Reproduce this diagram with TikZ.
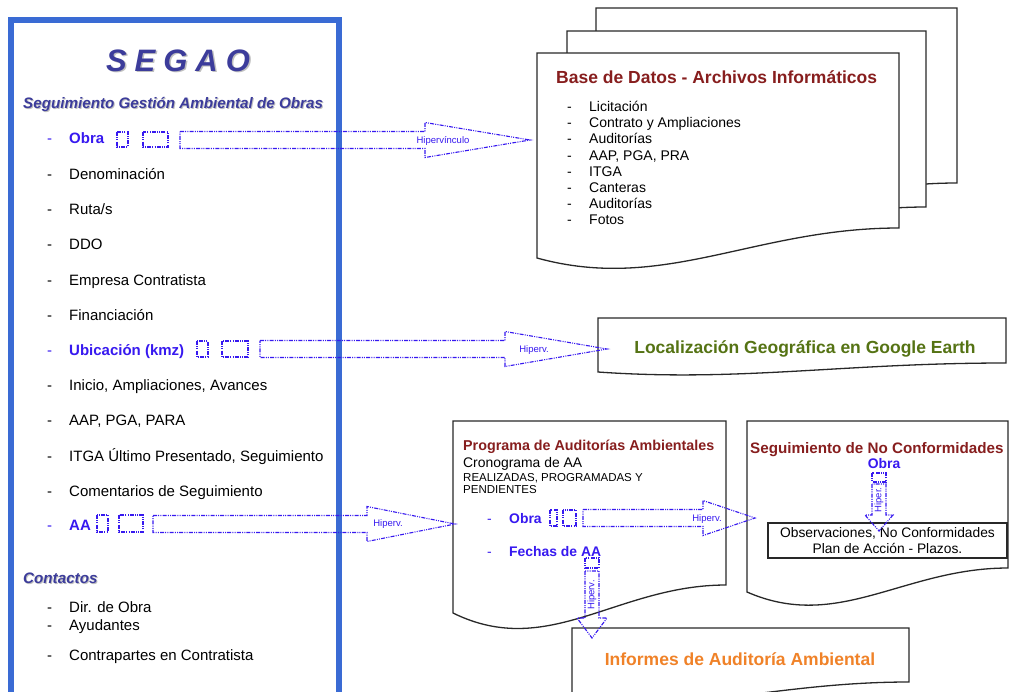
\documentclass[tikz,border=0pt]{standalone}
\usepackage{fontspec}
\setmainfont{Liberation Sans}
\definecolor{panelblue}{RGB}{58,107,212}
\definecolor{hyblue}{RGB}{55,25,240}
\definecolor{titlenavy}{RGB}{60,60,155}
\definecolor{darkred}{RGB}{135,30,30}
\definecolor{olivegreen}{RGB}{85,115,20}
\definecolor{orangeT}{RGB}{240,130,40}
\definecolor{outline}{RGB}{40,40,40}
\tikzset{
 lst/.style={anchor=base west, inner sep=0pt, font=\fontsize{15}{18}\selectfont},
 lstb/.style={anchor=base west, inner sep=0pt, font=\fontsize{15}{18}\selectfont\bfseries, text=hyblue},
 dbl/.style={anchor=base west, inner sep=0pt, font=\fontsize{14}{16}\selectfont},
 hyline/.style={draw=hyblue, line width=1.1pt, dash pattern=on 4pt off 1.2pt on 1pt off 1.2pt on 1pt off 1.2pt},
 hylabel/.style={inner sep=0pt, text=hyblue, font=\fontsize{9.5}{11}\selectfont},
 doc/.style={draw=outline, line width=1.3pt, fill=white, line join=miter},
 navytxt/.style={inner sep=0pt, text=titlenavy, font=\fontsize{15.2}{18}\selectfont\bfseries\itshape},
 shadowtxt/.style={inner sep=0pt, text=black!25, font=\fontsize{15.2}{18}\selectfont\bfseries\itshape},
}
% xL yT xR yLB yRB c1y
\newcommand{\docshape}[6]{\draw[doc] (#1,#2) -- (#3,#2) -- (#3,#5) .. controls ({#1+0.6*(#3-#1)},#5) and ({#1+0.35*(#3-#1)},#6) .. (#1,#4) -- cycle;}
% x1 x2 x3 y
\newcommand{\hyarrowR}[4]{\draw[hyline] (#1,#4-8.5) -- (#2,#4-8.5) -- (#2,#4-17.5) -- (#3,#4) -- (#2,#4+17.5) -- (#2,#4+8.5) -- (#1,#4+8.5) -- cycle;}
% xc y1 y2 y3 hs hh
\newcommand{\hyarrowD}[6]{\draw[hyline] (#1-#5,#2) -- (#1-#5,#3) -- (#1-#6,#3) -- (#1,#4) -- (#1+#6,#3) -- (#1+#5,#3) -- (#1+#5,#2) -- cycle;}
\begin{document}
\begin{tikzpicture}[x=1pt,y=-1pt]
\useasboundingbox (0,0) rectangle (1009,691);
\clip (0,0) rectangle (1009,691);
\fill[white] (0,0) rectangle (1009,691);

% ---------- document shapes ----------
\docshape{596}{8}{957}{213}{183}{248}
\docshape{567}{31}{926}{236}{207}{271}
\docshape{537}{53}{899}{258}{228}{293}
\docshape{598}{318}{1006}{372}{363}{382}
\docshape{453}{421}{726}{613}{585}{660}
\docshape{747}{421}{1008}{592}{568}{632}
\docshape{572}{628}{909}{698}{682}{715}

% ---------- left panel ----------
\draw[draw=panelblue, line width=6pt] (11,20) rectangle (339,730);

\node[anchor=base, inner sep=0pt, text=black!25, font=\fontsize{31}{34}\selectfont\bfseries\itshape] (segaoS) at (179.5,72.5) {S\hspace{8pt}E\hspace{8pt}G\hspace{8pt}A\hspace{8pt}O};
\node[anchor=base, inner sep=0pt, text=titlenavy, font=\fontsize{31}{34}\selectfont\bfseries\itshape] (segao) at (178,71) {S\hspace{8pt}E\hspace{8pt}G\hspace{8pt}A\hspace{8pt}O};
\node[shadowtxt, anchor=base west] (subS) at (24,109) {Seguimiento Gestión Ambiental de Obras};
\node[navytxt, anchor=base west] (sub) at (23,108) {Seguimiento Gestión Ambiental de Obras};

\node[lst, text=hyblue] (d1) at (47,143) {-};
\node[lstb] (obra) at (69,143) {Obra};
\node[lst] (d2) at (47,179) {-};
\node[lst] (denom) at (69,179) {Denominación};
\node[lst] (d3) at (47,214) {-};
\node[lst] (ruta) at (69,214) {Ruta/s};
\node[lst] (d4) at (47,249) {-};
\node[lst] (ddo) at (69,249) {DDO};
\node[lst] (d5) at (47,285) {-};
\node[lst] (empresa) at (69,285) {Empresa Contratista};
\node[lst] (d6) at (47,320) {-};
\node[lst] (finan) at (69,320) {Financiación};
\node[lst, text=hyblue] (d7) at (47,355) {-};
\node[lstb] (ubic) at (69,355) {Ubicación (kmz)};
\node[lst] (d8) at (47,390) {-};
\node[lst] (inicio) at (69,390) {Inicio, Ampliaciones, Avances};
\node[lst] (d9) at (47,425) {-};
\node[lst] (aap) at (69,425) {AAP, PGA, PARA};
\node[lst] (d10) at (47,461) {-};
\node[lst] (itga) at (69,461) {ITGA Último Presentado, Seguimiento};
\node[lst] (d11) at (47,496) {-};
\node[lst] (coment) at (69,496) {Comentarios de Seguimiento};
\node[lst, text=hyblue] (d12) at (47,530) {-};
\node[lstb] (aa) at (69,530) {AA};

\node[shadowtxt, anchor=base west] (contS) at (24,584) {Contactos};
\node[navytxt, anchor=base west] (cont) at (23,583) {Contactos};
\node[lst] (d13) at (47,612) {-};
\node[lst] (dir) at (69,612) {Dir. de Obra};
\node[lst] (d14) at (47,630) {-};
\node[lst] (ayud) at (69,630) {Ayudantes};
\node[lst] (d15) at (47,660) {-};
\node[lst] (contra) at (69,660) {Contrapartes en Contratista};

% ---------- Base de Datos ----------
\node[anchor=base west, inner sep=0pt, text=darkred, font=\fontsize{17.5}{20}\selectfont\bfseries] (bdtitle) at (556,83) {Base de Datos - Archivos Informáticos};
\node[dbl] (b1d) at (567,111) {-};
\node[dbl] (b1) at (589,111) {Licitación};
\node[dbl] (b2d) at (567,127) {-};
\node[dbl] (b2) at (589,127) {Contrato y Ampliaciones};
\node[dbl] (b3d) at (567,143) {-};
\node[dbl] (b3) at (589,143) {Auditorías};
\node[dbl] (b4d) at (567,160) {-};
\node[dbl] (b4) at (589,160) {AAP, PGA, PRA};
\node[dbl] (b5d) at (567,176) {-};
\node[dbl] (b5) at (589,176) {ITGA};
\node[dbl] (b6d) at (567,192) {-};
\node[dbl] (b6) at (589,192) {Canteras};
\node[dbl] (b7d) at (567,208) {-};
\node[dbl] (b7) at (589,208) {Auditorías};
\node[dbl] (b8d) at (567,224) {-};
\node[dbl] (b8) at (589,224) {Fotos};

% ---------- Google Earth ----------
\node[anchor=base, inner sep=0pt, text=olivegreen, font=\fontsize{17.5}{20}\selectfont\bfseries] (geo) at (805,353) {Localización Geográfica en Google Earth};

% ---------- Programa ----------
\node[anchor=base west, inner sep=0pt, text=darkred, font=\fontsize{14.3}{17}\selectfont\bfseries] (prtitle) at (463,450) {Programa de Auditorías Ambientales};
\node[anchor=base west, inner sep=0pt, font=\fontsize{13.9}{16}\selectfont] (crono) at (463,467) {Cronograma de AA};
\node[anchor=base west, inner sep=0pt, font=\fontsize{11.5}{13}\selectfont] (realiz) at (463,481) {REALIZADAS, PROGRAMADAS Y};
\node[anchor=base west, inner sep=0pt, font=\fontsize{11.5}{13}\selectfont] (pend) at (463,493) {PENDIENTES};
\node[anchor=base west, inner sep=0pt, text=hyblue, font=\fontsize{13.9}{16}\selectfont] (pd1) at (487,523) {-};
\node[anchor=base west, inner sep=0pt, text=hyblue, font=\fontsize{13.9}{16}\selectfont\bfseries] (probra) at (509,523) {Obra};
\node[anchor=base west, inner sep=0pt, text=hyblue, font=\fontsize{13.9}{16}\selectfont] (pd2) at (487,556) {-};
\node[anchor=base west, inner sep=0pt, text=hyblue, font=\fontsize{13.9}{16}\selectfont\bfseries] (fechas) at (509,556) {Fechas de AA};

% ---------- No Conformidades ----------
\node[anchor=base west, inner sep=0pt, text=darkred, font=\fontsize{15.2}{18}\selectfont\bfseries] (nctitle) at (750,453) {Seguimiento de No Conformidades};
\node[anchor=base, inner sep=0pt, text=hyblue, font=\fontsize{13.9}{16}\selectfont\bfseries] (ncobra) at (884,468) {Obra};
\node[draw=outline, line width=1.3pt, fill=white, minimum width=239pt, minimum height=35pt, inner sep=0pt, align=center, font=\fontsize{13.8}{16}\selectfont] (obs) at (887.5,540.5) {Observaciones, No Conformidades\\Plan de Acción - Plazos.};

% ---------- Informes ----------
\node[anchor=base, inner sep=0pt, text=orangeT, font=\fontsize{17.5}{20}\selectfont\bfseries] (informes) at (740,665) {Informes de Auditoría Ambiental};

% ---------- hyperlink arrows ----------
\draw[hyline] (117,132) rectangle (128,147);
\draw[hyline] (143,132) rectangle (168,147);
\hyarrowR{180}{425}{530}{140}
\node[hylabel] (hl1) at (443,141) {Hipervínculo};

\draw[hyline] (197,341) rectangle (208,357);
\draw[hyline] (222,341) rectangle (248,357);
\hyarrowR{260}{505}{607}{349}
\node[hylabel] (hl2) at (534,350) {Hiperv.};

\draw[hyline] (97,515) rectangle (108,532);
\draw[hyline] (119,515) rectangle (143,532);
\hyarrowR{153}{367}{455}{524}
\node[hylabel] (hl3) at (388,524) {Hiperv.};

\draw[hyline] (550,510) rectangle (557,526);
\draw[hyline] (563,510) rectangle (576,526);
\hyarrowR{583}{703}{755}{518}
\node[hylabel] (hl4) at (707,519) {Hiperv.};

\draw[hyline] (585,558) rectangle (599,568);
\hyarrowD{592}{571}{618}{638}{7}{15}
\node[hylabel, rotate=90] (hl5) at (592,595) {Hiperv.};

\draw[hyline] (872,473) rectangle (886,482);
\hyarrowD{879}{484}{515}{531}{7}{14}
\node[hylabel, rotate=90] (hl6) at (879,500) {Hiper.};
\end{tikzpicture}
\end{document}
